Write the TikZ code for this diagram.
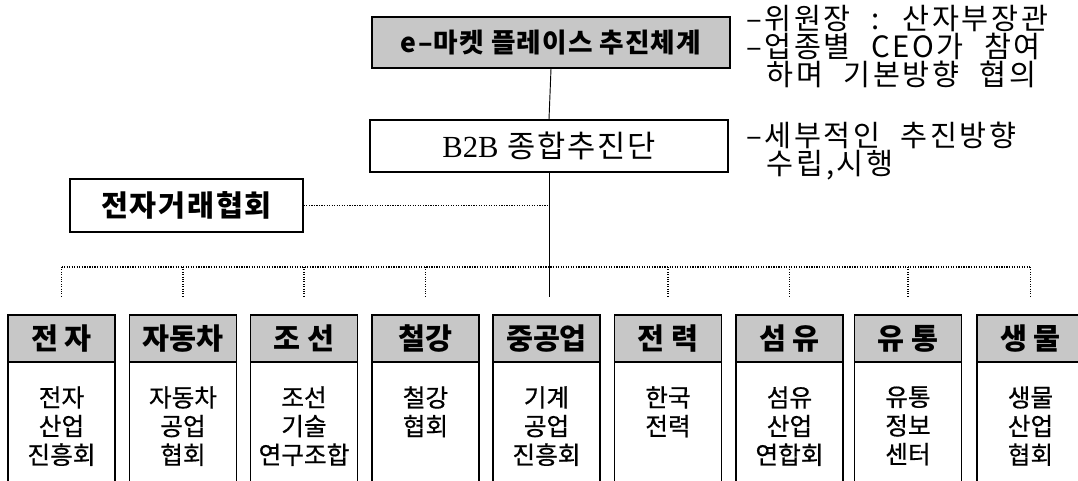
\documentclass[tikz,border=0pt]{standalone}
\usepackage{fontspec}
\setmainfont{Noto Sans CJK KR}
\newfontfamily\latinserif{Liberation Serif}
\newfontfamily\notefont[LetterSpace=9, WordSpace=2.2]{Noto Sans CJK KR}
\newfontfamily\widefont[LetterSpace=6]{Noto Sans CJK KR}
\newfontfamily\topfont[LetterSpace=4]{Noto Sans CJK KR}
\newfontfamily\bodyfont[FakeBold=0.6]{Noto Sans CJK KR}
\def\u{0.75pt}
\tikzset{
  frame/.style={draw=black, line width=1.1pt, inner sep=0pt, align=center},
  shaded/.style={frame, fill=black!22},
  hdr/.style={shaded, minimum width={107*\u}, minimum height={47*\u}, font=\fontsize{22}{24}\selectfont\bfseries},
  bodybox/.style={frame, minimum width={107*\u}, minimum height={130*\u}},
  bodytxt/.style={inner sep=0pt, align=center, font=\bodyfont\fontsize{18.5}{21.5}\selectfont},
  note/.style={inner sep=0pt, align=left, font=\notefont\fontsize{22}{21}\selectfont},
  solidline/.style={draw=black, line width=0.7pt},
  dotline/.style={draw=black, line width=0.9pt, densely dotted},
  tickline/.style={draw=black, line width=0.8pt, densely dotted}
}
\begin{document}
\begin{tikzpicture}[x=0.75pt, y=-0.75pt]
\useasboundingbox (0,0) rectangle (1078,480);
\clip (0,0) rectangle (1078,480);

% top level
\node[shaded, minimum width={358*\u}, minimum height={51*\u}, font=\topfont\fontsize{20}{24}\selectfont\bfseries] (top) at (551,42.5) {e–마켓 플레이스 추진체계};
\node[frame, minimum width={358*\u}, minimum height={52*\u}, font=\widefont\fontsize{23}{24}\selectfont] (b2b) at (549,146) {{\latinserif B2B} 종합추진단};
\node[frame, minimum width={233*\u}, minimum height={53*\u}, font=\widefont\fontsize{22}{24}\selectfont\bfseries] (ea) at (186.5,205.5) {전자거래협회};

% notes
\node[note, anchor=north west] (n1) at (746,5) {–위원장 : 산자부장관\\–업종별 CEO가 참여\\\hspace*{0.7em}하며 기본방향 협의};
\node[note, anchor=north west] (n2) at (746,122) {–세부적인 추진방향\\\hspace*{0.7em}수립,시행};

% bottom columns
\foreach \i/\x/\h/\b in {
  1/61.5/{전 자}/{전자\\산업\\진흥회},
  2/183/{자동차}/{자동차\\공업\\협회},
  3/304/{조 선}/{조선\\기술\\연구조합},
  4/425.5/{철강}/{철강\\협회},
  5/546.5/{중공업}/{기계\\공업\\진흥회},
  6/668/{전 력}/{한국\\전력},
  7/789.5/{섬 유}/{섬유\\산업\\연합회},
  8/908/{유 통}/{유통\\정보\\센터},
  9/1030.5/{생 물}/{생물\\산업\\협회}}{
  \node[bodybox, anchor=north] (bb\i) at (\x,362) {};
  \node[hdr] (h\i) at (\x,338.5) {\h};
  \node[bodytxt, anchor=north] (t\i) at (\x,386) {\b};
  \coordinate (k\i) at (\x,267);
  \coordinate (e\i) at (\x,297);
}

% connectors
\draw[solidline] (top.south) -- (b2b.north);
\draw[solidline] (b2b.south) -- (b2b.south |- e5);
\draw[dotline] (ea.east) -- (ea.east -| b2b.south);
\draw[dotline] (k1) -- (k9);
\foreach \i in {1,2,3,4,6,7,8,9}{
  \draw[tickline] (k\i) -- (e\i);
}
\end{tikzpicture}
\end{document}
